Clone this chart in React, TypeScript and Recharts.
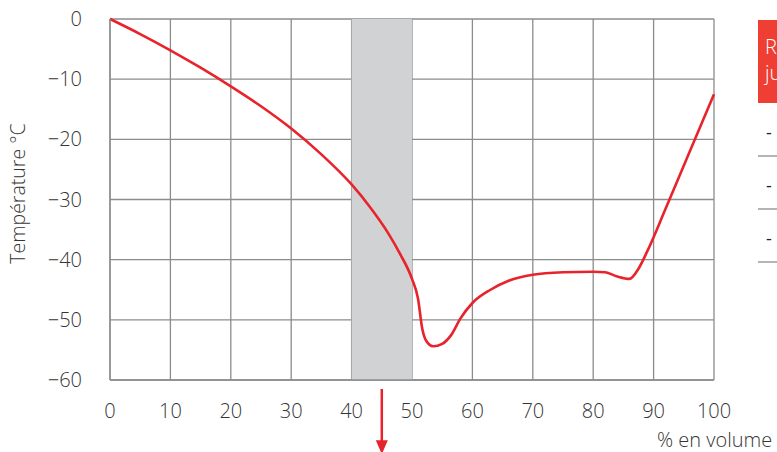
import React from "react";
import {
  CartesianGrid,
  Line,
  LineChart,
  ReferenceArea,
  ReferenceLine,
  XAxis,
  YAxis,
} from "recharts";

const RED = "#e8232b";
const GRID = "#8c8c8c";
const TEXT = "#353535";
const FONT = "'Open Sans', 'DejaVu Sans', sans-serif";

const volume = [
  0, 5, 10, 15, 20, 25, 30, 35, 40, 43, 46, 48, 50, 51, 51.7, 52.3, 53.5, 55,
  56.5, 58, 60, 63, 66, 70, 75, 80, 82, 84, 86, 87.5, 89, 92, 96, 100,
];
const temperature = [
  0, -2.5, -5.2, -8.1, -11.2, -14.5, -18.2, -22.5, -27.5, -31.2, -35.5, -39,
  -43.2, -46.5, -51.5, -53.4, -54.4, -54, -52.5, -49.8, -47.2, -45, -43.5, -42.5,
  -42.1, -42, -42.1, -42.8, -43.2, -41.5, -38.5, -31.5, -22, -12.5,
];
const xTicks = [0, 10, 20, 30, 40, 50, 60, 70, 80, 90, 100];
const yTicks = [0, -10, -20, -30, -40, -50, -60];
const band = [40, 50];
const arrowAt = 45;
const legendRows = ["-", "-", "-"];

const data = volume.map((v, i) => ({ v, t: temperature[i] }));

const fmtY = (n: number) => (n < 0 ? `\u2212${Math.abs(n)}` : `${n}`);

const tickStyle = { fontSize: 20, fill: TEXT, fontFamily: FONT, fontWeight: 300 };

function Arrow(props: any) {
  const { x1, y1, x2, y2 } = props;
  if (x1 == null) return null;
  return (
    <g>
      <line x1={x1} y1={y1} x2={x2} y2={y2 - 8} stroke={RED} strokeWidth={2.5} />
      <polygon
        points={`${x2 - 6},${y2 - 12} ${x2 + 6},${y2 - 12} ${x2},${y2 + 2}`}
        fill={RED}
      />
    </g>
  );
}

export default function App() {
  return (
    <div
      style={{
        position: "fixed",
        left: 0,
        top: 0,
        width: 777,
        height: 452,
        overflow: "hidden",
        background: "#fff",
        fontFamily: FONT,
      }}
    >
      <LineChart
        width={777}
        height={452}
        data={data}
        margin={{ top: 19, right: 63, bottom: 0, left: 0 }}
      >
        <ReferenceArea
          x1={band[0]}
          x2={band[1]}
          y1={-60}
          y2={0}
          fill="#d1d2d4"
          fillOpacity={1}
          stroke="none"
        />
        <CartesianGrid stroke={GRID} strokeWidth={1.3} verticalValues={xTicks} horizontalValues={yTicks} />
        <XAxis
          dataKey="v"
          type="number"
          domain={[0, 100]}
          ticks={xTicks}
          height={72}
          axisLine={{ stroke: GRID, strokeWidth: 1.3 }}
          tickLine={false}
          tickMargin={18}
          tick={tickStyle}
        />
        <YAxis
          type="number"
          domain={[-60, 0]}
          ticks={yTicks}
          width={110}
          axisLine={{ stroke: GRID, strokeWidth: 1.3 }}
          tickLine={false}
          tickMargin={22}
          tickFormatter={fmtY}
          tick={tickStyle}
          label={{
            value: "Température °C",
            angle: -90,
            position: "insideLeft",
            offset: 18,
            dy: -6,
            style: { textAnchor: "middle", fontSize: 19.5, fill: TEXT, fontFamily: FONT, fontWeight: 300 },
          }}
        />
        <ReferenceLine
          segment={[
            { x: arrowAt, y: -61.5 },
            { x: arrowAt, y: -72 },
          ]}
          ifOverflow="visible"
          shape={<Arrow />}
        />
        <Line
          type="monotone"
          dataKey="t"
          stroke={RED}
          strokeWidth={2.6}
          dot={false}
          isAnimationActive={false}
        />
      </LineChart>
      <div
        style={{
          position: "absolute",
          left: 657,
          top: 426,
          fontSize: 20,
          fontWeight: 300,
          color: TEXT,
          whiteSpace: "nowrap",
        }}
      >
        % en volume
      </div>
      <div
        style={{
          position: "absolute",
          left: 758,
          top: 20,
          width: 200,
          height: 83,
          background: "#ef3e33",
          color: "#fff",
          fontSize: 20,
          fontWeight: 300,
          lineHeight: "26px",
          padding: "14px 0 0 7px",
          boxSizing: "border-box",
          whiteSpace: "nowrap",
        }}
      >
        Résistance
        <br />
        jusqu'à
      </div>
      {legendRows.map((r, i) => (
        <div
          key={i}
          style={{
            position: "absolute",
            left: 758,
            top: 104 + i * 53,
            width: 200,
            height: 53,
            borderBottom: "2px solid #b4b4b4",
            boxSizing: "border-box",
            color: "#222",
            fontSize: 18,
            padding: "16px 0 0 8px",
          }}
        >
          {r}
        </div>
      ))}
    </div>
  );
}
